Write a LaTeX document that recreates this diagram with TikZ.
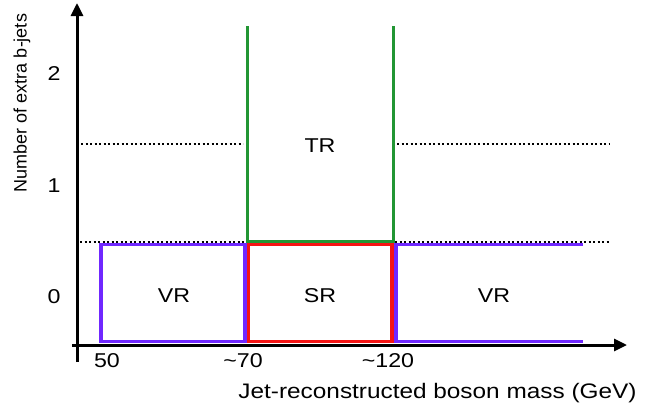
\documentclass[tikz,border=0pt]{standalone}
\usepackage{fontspec}
\setmainfont{Liberation Sans}
\usepackage{graphicx}
\usetikzlibrary{arrows.meta}
\definecolor{vrpurple}{RGB}{112,40,255}
\definecolor{srred}{RGB}{245,20,20}
\definecolor{trgreen}{RGB}{34,150,52}
\newcommand{\hs}[1]{\scalebox{1.16}[1]{#1}}
\begin{document}
\begin{tikzpicture}[x=1pt,y=-1pt,
  axis/.style={line width=3pt,-{Triangle[length=13pt,width=12pt]}},
  lab/.style={font=\fontsize{20}{20}\selectfont,inner sep=0pt,anchor=base},
  ttl/.style={font=\fontsize{21}{21}\selectfont,inner sep=0pt,anchor=base},
  dotline/.style={line width=2.3pt,dash pattern=on 2.2pt off 2.3pt},
  vrline/.style={draw=vrpurple,line width=3.5pt},
  srline/.style={draw=srred,line width=3.5pt},
  trline/.style={draw=trgreen,line width=3pt}]
\useasboundingbox (0,0) rectangle (654,407);
% axes
\coordinate (ybot) at (77,362);
\coordinate (ytop) at (77,3);
\coordinate (xstart) at (72,345);
\coordinate (xend) at (627,345);
% dotted lines
\coordinate (d1a) at (81,144);
\coordinate (d1b) at (243,144);
\coordinate (d1c) at (397,144);
\coordinate (d1d) at (610,144);
\coordinate (d2a) at (80,242);
\coordinate (d2b) at (610,242);
\draw[dotline] (d1a) -- (d1b);
\draw[dotline] (d1c) -- (d1d);
\draw[dotline] (d2a) -- (d2b);
% regions
\draw[trline] (247,26) -- (247,241) -- (393,241) -- (393,26);
\draw[vrline] (101,244.5) rectangle (245,341.5);
\draw[srline] (248.5,244.5) rectangle (392,341.5);
\draw[vrline] (583,244.5) -- (396,244.5) -- (396,341.5) -- (583,341.5);
\draw[axis] (ybot) -- (ytop);
\draw[axis] (xstart) -- (xend);
% region labels
\node[lab] (tr) at (320,152) {\hs{TR}};
\node[lab] (vrl) at (174,302) {\hs{VR}};
\node[lab] (sr) at (320,302) {\hs{SR}};
\node[lab] (vrr) at (494,302) {\hs{VR}};
% ticks
\node[lab] (t50) at (107,367) {\hs{50}};
\node[lab] (t70) at (243,367) {\hs{\textasciitilde70}};
\node[lab] (t120) at (388,367) {\hs{\textasciitilde120}};
\node[lab] (y2) at (54,80) {\hs{2}};
\node[lab] (y1) at (54,192) {\hs{1}};
\node[lab] (y0) at (54,303) {\hs{0}};
% titles
\node[ttl] (xt) at (437.5,398) {\hs{Jet-reconstructed boson mass (GeV)}};
\node[rotate=90,inner sep=0pt,font=\fontsize{18}{18}\selectfont] (yt) at (22,103) {Number of extra b-jets};
\end{tikzpicture}
\end{document}
